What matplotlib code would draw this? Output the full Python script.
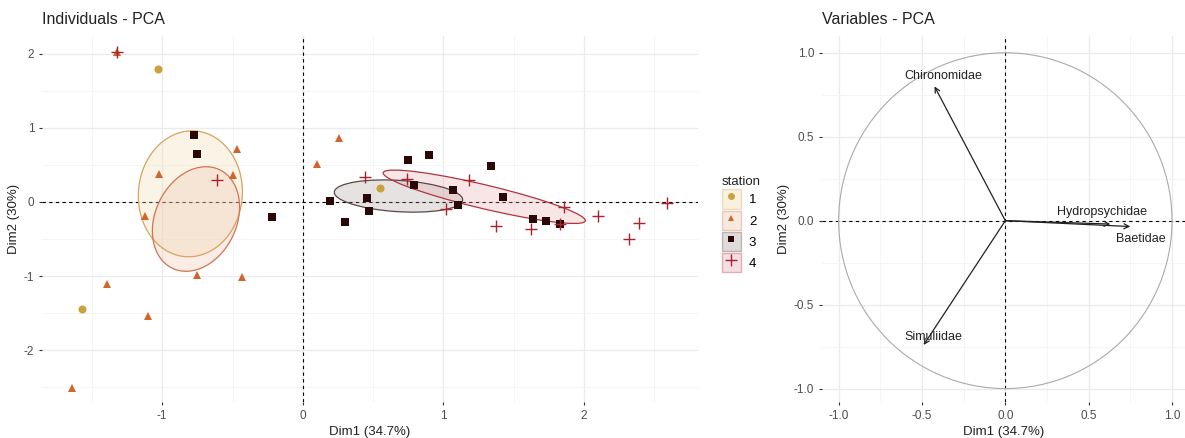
#!/usr/bin/env python3
"""PCA biplot: individuals coloured by station, and the variables circle."""

import numpy as np
import matplotlib
matplotlib.use('Agg')
import matplotlib.pyplot as plt
from matplotlib.patches import Ellipse, Patch, Circle
from matplotlib.lines import Line2D
from matplotlib.legend_handler import HandlerTuple

plt.rcParams['font.family'] = ['Liberation Sans', 'DejaVu Sans']

# individuals (Dim1, Dim2) per station
st1_x = [-1.03, -1.57, 0.55]
st1_y = [1.80, -1.45, 0.19]
st2_x = [-1.32, -1.02, -0.47, -0.50, 0.10, 0.26, -1.12, -1.39, -0.75, -0.43, -1.10, -1.64]
st2_y = [2.02, 0.38, 0.72, 0.37, 0.51, 0.86, -0.19, -1.11, -0.98, -1.01, -1.54, -2.51]
st3_x = [-0.775, -0.755, -0.22, 0.19, 0.455, 0.47, 0.30, 0.75, 0.90, 0.79, 1.07, 1.10,
         1.34, 1.42, 1.64, 1.73, 1.83]
st3_y = [0.905, 0.65, -0.20, 0.01, 0.055, -0.12, -0.27, 0.57, 0.64, 0.23, 0.16, -0.04,
         0.49, 0.07, -0.23, -0.26, -0.30]
st4_x = [-1.32, -0.61, 0.44, 0.74, 1.02, 1.18, 1.37, 1.62, 1.855, 2.10, 2.39, 2.32, 2.59, 1.83]
st4_y = [2.02, 0.30, 0.34, 0.31, -0.10, 0.29, -0.33, -0.37, -0.07, -0.19, -0.29, -0.50, -0.02, -0.30]

# confidence ellipses: centre, semi axes, angle (deg)
ell_cx = [-0.80, -0.76, 0.68, 1.29]
ell_cy = [0.11, -0.23, 0.08, 0.07]
ell_a = [0.85, 0.71, 0.46, 0.79]
ell_b = [0.37, 0.30, 0.21, 0.15]
ell_ang = [89, 83, -8, -25]

stations = ['1', '2', '3', '4']

# variables (correlation with Dim1, Dim2)
var_names = ['Chironomidae', 'Simuliidae', 'Hydropsychidae', 'Baetidae']
var_x = [-0.425, -0.49, 0.63, 0.75]
var_y = [0.80, -0.74, -0.02, -0.035]
lab_x = [-0.37, -0.43, 0.58, 0.81]
lab_y = [0.86, -0.69, 0.05, -0.11]

pt_col = ['#C9A23C', '#D2642E', '#2A0808', '#A8232C']
edge_col = ['#D9A25E', '#CF7552', '#5A4848', '#B03440']
fill_col = ['#EFD9A8', '#ECC0A6', '#A89898', '#E8A6AC']
markers = ['o', '^', 's', '+']

grid_major = '#EBEBEB'
grid_minor = '#F4F4F4'
tick_col = '#4D4D4D'

fig = plt.figure(figsize=(11.85, 4.38), dpi=100)
ax1 = fig.add_axes([42/1185, 1-402/438, 656/1185, 366/438])
ax2 = fig.add_axes([822/1185, 1-402/438, 363/1185, 366/438])


def style(ax, major, minor_x, minor_y):
    for s in ax.spines.values():
        s.set_visible(False)
    ax.set_xticks(major[0])
    ax.set_yticks(major[1])
    ax.set_xticks(minor_x, minor=True)
    ax.set_yticks(minor_y, minor=True)
    ax.grid(which='major', color=grid_major, lw=0.9, zorder=0)
    ax.grid(which='minor', color=grid_minor, lw=0.6, zorder=0)
    ax.tick_params(which='major', length=2.5, width=0.8, color='#333333',
                   labelsize=8.5, labelcolor=tick_col, pad=3)
    ax.tick_params(which='minor', length=0)
    ax.set_axisbelow(True)


# ---- Individuals ----
style(ax1, ([-1, 0, 1, 2], [-2, -1, 0, 1, 2]),
      [-1.5, -0.5, 0.5, 1.5, 2.5], [-2.5, -1.5, -0.5, 0.5, 1.5])
ax1.set_xlim(-1.855, 2.81)
ax1.set_ylim(-2.70, 2.24)
ax1.set_xticklabels(['-1', '0', '1', '2'])
ax1.set_yticklabels(['-2', '-1', '0', '1', '2'])

for i in range(4):
    e = Ellipse((ell_cx[i], ell_cy[i]), 2 * ell_a[i], 2 * ell_b[i], angle=ell_ang[i],
                facecolor=fill_col[i], alpha=0.28, edgecolor='none', zorder=2)
    ax1.add_patch(e)
    e2 = Ellipse((ell_cx[i], ell_cy[i]), 2 * ell_a[i], 2 * ell_b[i], angle=ell_ang[i],
                 facecolor='none', edgecolor=edge_col[i], lw=0.9, zorder=3)
    ax1.add_patch(e2)

ax1.axhline(0, color='black', ls=(0, (3, 3)), lw=0.8, zorder=1)
ax1.axvline(0, color='black', ls=(0, (3, 3)), lw=0.8, zorder=1)

data = [(st1_x, st1_y), (st2_x, st2_y), (st3_x, st3_y), (st4_x, st4_y)]
for i, (xs, ys) in enumerate(data):
    if markers[i] == '+':
        ax1.plot(xs, ys, ls='none', marker='+', ms=8, mew=1.0, color=pt_col[i], zorder=4)
    else:
        ax1.plot(xs, ys, ls='none', marker=markers[i], ms=5.8, mew=0, color=pt_col[i], zorder=4)

ax1.set_xlabel('Dim1 (34.7%)', fontsize=9.5, color='#222222', labelpad=3)
ax1.set_ylabel('Dim2 (30%)', fontsize=9.5, color='#222222', labelpad=3)
fig.text(42/1185, 1-20/438, 'Individuals - PCA', fontsize=11.5, color='#222222',
         ha='left', va='center')

# legend
handles = []
for i in range(4):
    box = Patch(facecolor=fill_col[i], alpha=0.35, edgecolor=edge_col[i], lw=1)
    if markers[i] == '+':
        mk = Line2D([], [], ls='none', marker='+', ms=8, mew=1.0, color=pt_col[i])
    else:
        mk = Line2D([], [], ls='none', marker=markers[i], ms=5, mew=0, color=pt_col[i])
    handles.append((box, mk))
leg = fig.legend(handles, stations, handler_map={tuple: HandlerTuple(ndivide=1, pad=0)},
                 loc='upper left', bbox_to_anchor=(710/1185, 1-164/438), frameon=False,
                 title='station', fontsize=9.5, title_fontsize=9.5, handlelength=1.45,
                 handleheight=1.9, labelspacing=0.12, handletextpad=0.6,
                 alignment='left')
leg.get_title().set_color('#222222')

# ---- Variables ----
style(ax2, ([-1.0, -0.5, 0.0, 0.5, 1.0], [-1.0, -0.5, 0.0, 0.5, 1.0]),
      [-0.75, -0.25, 0.25, 0.75], [-0.75, -0.25, 0.25, 0.75])
ax2.set_xlim(-1.10, 1.078)
ax2.set_ylim(-1.08, 1.10)
ax2.set_xticklabels(['-1.0', '-0.5', '0.0', '0.5', '1.0'])
ax2.set_yticklabels(['-1.0', '-0.5', '0.0', '0.5', '1.0'])

ax2.add_patch(Circle((0, 0), 1, facecolor='none', edgecolor='#AAAAAA', lw=0.8, zorder=2))
ax2.axhline(0, color='black', ls=(0, (3, 3)), lw=0.8, zorder=1)
ax2.axvline(0, color='black', ls=(0, (3, 3)), lw=0.8, zorder=1)

for name, vx, vy, lx, ly in zip(var_names, var_x, var_y, lab_x, lab_y):
    ax2.annotate('', xy=(vx, vy), xytext=(0, 0),
                 arrowprops=dict(arrowstyle='->', color='#222222', lw=0.9,
                                 shrinkA=0, shrinkB=0, mutation_scale=9), zorder=3)
    ax2.text(lx, ly, name, fontsize=9, color='#222222', ha='center', va='center', zorder=4)

ax2.set_xlabel('Dim1 (34.7%)', fontsize=9.5, color='#222222', labelpad=3)
ax2.set_ylabel('Dim2 (30%)', fontsize=9.5, color='#222222', labelpad=3)
fig.text(822/1185, 1-20/438, 'Variables - PCA', fontsize=11.5, color='#222222',
         ha='left', va='center')

plt.savefig('out.png', dpi=100)
plt.close()
